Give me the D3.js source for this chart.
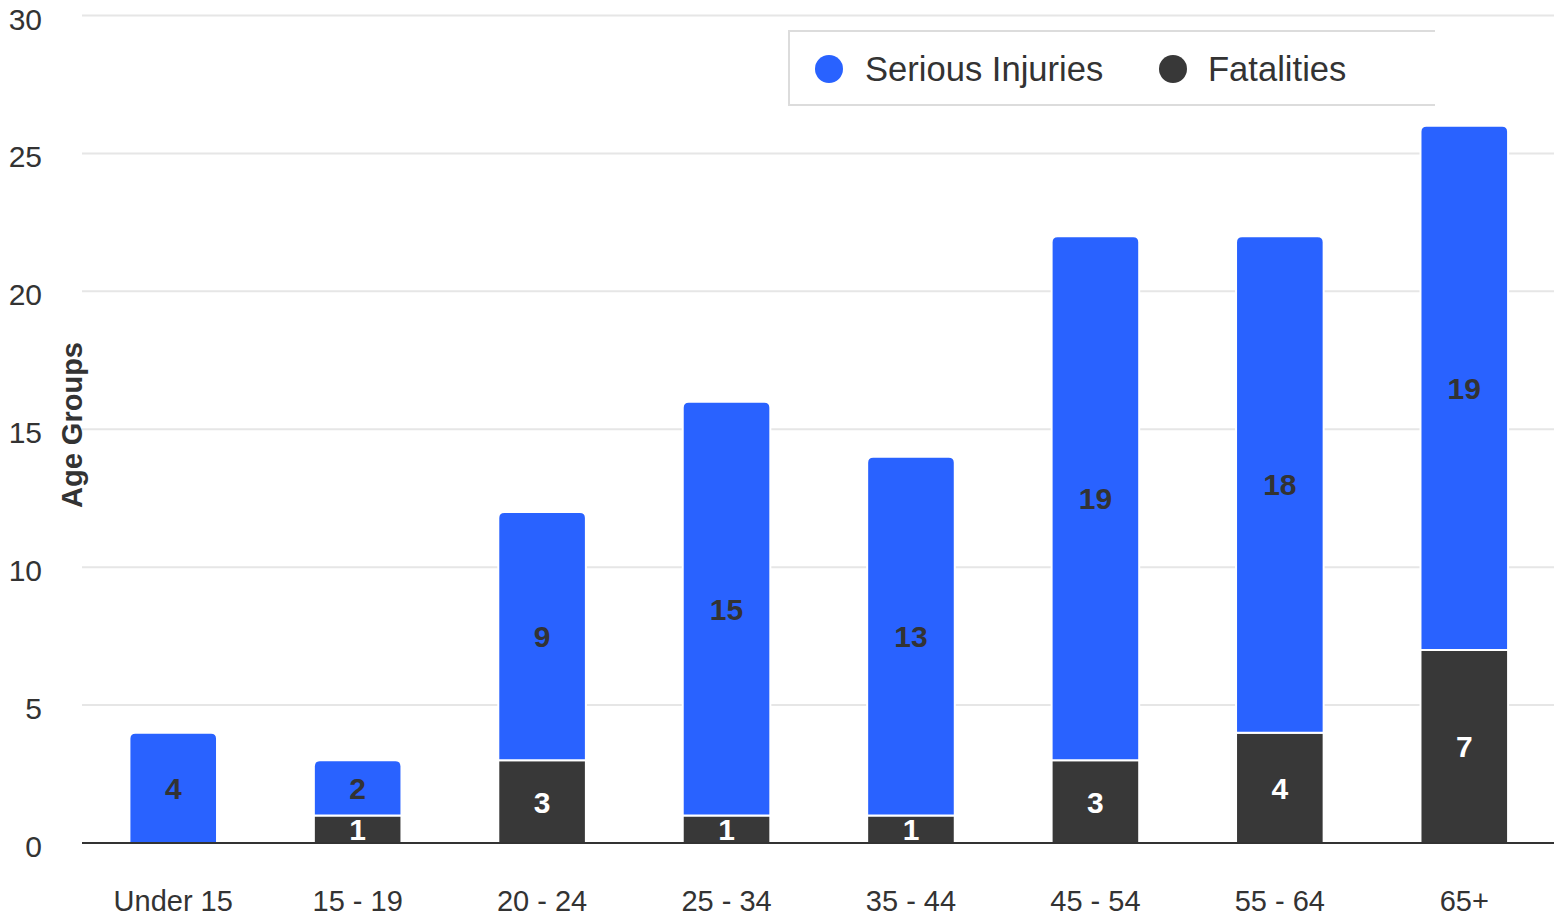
<!DOCTYPE html>
<html>
<head>
<meta charset="utf-8">
<script src="https://cdn.jsdelivr.net/npm/d3@7"></script>
<style>
  html, body { margin: 0; padding: 0; background: #fff; }
  svg { display: block; font-family: "Liberation Sans", Arial, sans-serif; }
</style>
</head>
<body>
<svg id="chart" width="1554" height="916"></svg>
<script>
const categories = ["Under 15", "15 - 19", "20 - 24", "25 - 34", "35 - 44", "45 - 54", "55 - 64", "65+"];
const fatalities = [0, 1, 3, 1, 1, 3, 4, 7];
const seriousInjuries = [4, 2, 9, 15, 13, 19, 18, 19];
const seriesNames = ["Fatalities", "Serious Injuries"];
const yTicks = [0, 5, 10, 15, 20, 25, 30];
const yTitle = "Age Groups";

const colors = { "Serious Injuries": "#2962ff", "Fatalities": "#383838" };
const labelColors = { "Serious Injuries": "#333333", "Fatalities": "#ffffff" };

const svg = d3.select("#chart");
const plotLeft = 82, plotRight = 1554, plotTop = 15.5, plotBottom = 843;

const x = d3.scaleBand().domain(categories).range([81, 1556.5]).paddingInner(0.525).paddingOuter(0.2625);
const y = d3.scaleLinear().domain([0, 30]).range([plotBottom, plotTop]);

// gridlines
svg.append("g").selectAll("line").data(yTicks.filter(d => d > 0)).join("line")
  .attr("x1", plotLeft).attr("x2", plotRight)
  .attr("y1", d => y(d)).attr("y2", d => y(d))
  .attr("stroke", "#e6e6e6").attr("stroke-width", 2);

// y tick labels
svg.append("g").selectAll("text").data(yTicks).join("text")
  .attr("x", 42).attr("y", d => y(d) + 14)
  .attr("text-anchor", "end")
  .attr("font-size", 30).attr("fill", "#333")
  .text(d => d);

// y title
svg.append("text")
  .attr("transform", `translate(82,425) rotate(-90)`)
  .attr("text-anchor", "middle")
  .attr("font-size", 29).attr("font-weight", "bold").attr("fill", "#333")
  .text(yTitle);

// stack
const rows = categories.map((c, i) => ({ cat: c, "Fatalities": fatalities[i], "Serious Injuries": seriousInjuries[i] }));
const stack = d3.stack().keys(seriesNames)(rows);

function topRounded(x0, y0, w, h, r) {
  r = Math.min(r, h / 2, w / 2);
  return `M${x0},${y0 + h}V${y0 + r}Q${x0},${y0} ${x0 + r},${y0}H${x0 + w - r}Q${x0 + w},${y0} ${x0 + w},${y0 + r}V${y0 + h}Z`;
}

const totals = rows.map(r => r["Fatalities"] + r["Serious Injuries"]);

const gBars = svg.append("g");
stack.forEach(layer => {
  const key = layer.key;
  layer.forEach((seg, i) => {
    const v = seg[1] - seg[0];
    if (v <= 0) return;
    const x0 = x(categories[i]);
    const w = x.bandwidth();
    const yTop = y(seg[1]);
    const h = y(seg[0]) - y(seg[1]);
    const isTop = seg[1] === totals[i];
    gBars.append("path")
      .attr("d", isTop ? topRounded(x0, yTop, w, h, 6) : `M${x0},${yTop}h${w}v${h}h${-w}Z`)
      .attr("fill", colors[key])
      .attr("stroke", "#fff").attr("stroke-width", 2);
  });
});

// baseline
svg.append("line").attr("x1", plotLeft).attr("x2", plotRight).attr("y1", plotBottom).attr("y2", plotBottom)
  .attr("stroke", "#333").attr("stroke-width", 2);

// value labels
const gLab = svg.append("g");
stack.forEach(layer => {
  const key = layer.key;
  layer.forEach((seg, i) => {
    const v = seg[1] - seg[0];
    if (v <= 0) return;
    gLab.append("text")
      .attr("x", x(categories[i]) + x.bandwidth() / 2)
      .attr("y", (y(seg[0]) + y(seg[1])) / 2 + 11)
      .attr("text-anchor", "middle")
      .attr("font-size", 30).attr("font-weight", "bold")
      .attr("fill", labelColors[key])
      .text(v);
  });
});

// x labels
svg.append("g").selectAll("text").data(categories).join("text")
  .attr("x", d => x(d) + x.bandwidth() / 2).attr("y", 911)
  .attr("text-anchor", "middle")
  .attr("font-size", 29).attr("fill", "#333")
  .text(d => d);

// legend
const lg = svg.append("g");
lg.append("path").attr("d", "M1435,31H789V105H1435")
  .attr("fill", "#fff").attr("stroke", "#dcdcdc").attr("stroke-width", 2);
const legendItems = [
  { name: "Serious Injuries", cx: 829, tx: 865 },
  { name: "Fatalities", cx: 1173, tx: 1208 }
];
legendItems.forEach(it => {
  lg.append("circle").attr("cx", it.cx).attr("cy", 69).attr("r", 14).attr("fill", colors[it.name]);
  lg.append("text").attr("x", it.tx).attr("y", 81).attr("font-size", 34.6).attr("fill", "#333").text(it.name);
});
</script>
</body>
</html>
